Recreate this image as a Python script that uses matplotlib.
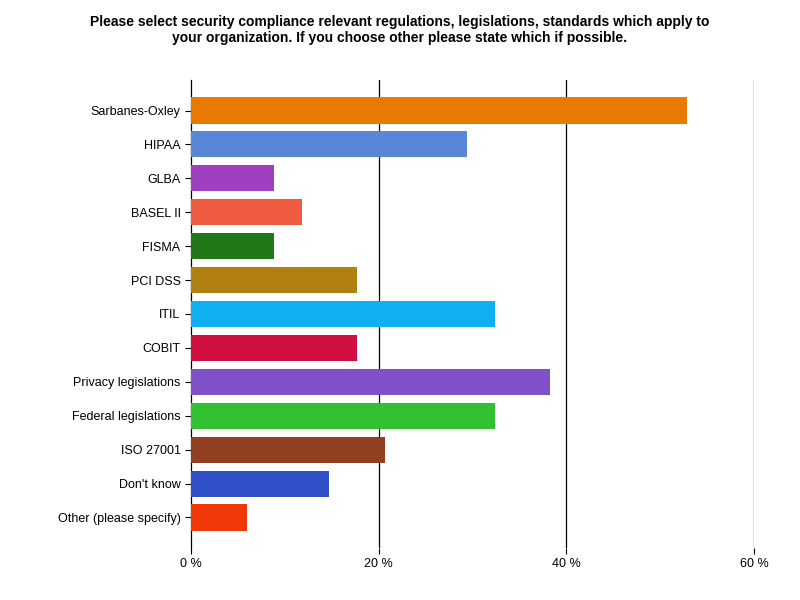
import matplotlib.pyplot as plt

categories = ["Sarbanes-Oxley", "HIPAA", "GLBA", "BASEL II", "FISMA", "PCI DSS", "ITIL",
              "COBIT", "Privacy legislations", "Federal legislations", "ISO 27001",
              "Don't know", "Other (please specify)"]
values = [52.9, 29.4, 8.8, 11.8, 8.8, 17.7, 32.4, 17.7, 38.3, 32.4, 20.7, 14.7, 6.0]
colors = ["#e87a00", "#5a86d8", "#a040c0", "#f05a40", "#207818", "#b08010", "#10b0f0",
          "#d01040", "#8050c8", "#30c030", "#904020", "#3050c8", "#f03808"]

fig = plt.figure(figsize=(8, 6), dpi=100)
ax = fig.add_axes([191 / 800, 52 / 600, 563 / 800, 468 / 600])
y = list(range(len(categories)))
ax.barh(y, values, height=0.77, color=colors, edgecolor="none", zorder=3)
ax.set_ylim(len(categories) - 0.5 + 0.4, -0.5 - 0.4)
ax.set_xlim(0, 60)
ax.set_yticks(y)
ax.set_yticklabels(categories, fontsize=9, family="Liberation Sans")
ax.set_xticks([0, 20, 40, 60])
ax.set_xticklabels(["0 %", "20 %", "40 %", "60 %"], fontsize=9, family="Liberation Sans")
for x in [20, 40, 60]:
    ax.axvline(x, color="black", linewidth=0.9, zorder=1)
for s in ["top", "right", "bottom"]:
    ax.spines[s].set_visible(False)
ax.spines["left"].set_linewidth(0.9)
ax.tick_params(axis="both", length=4, width=0.8)
fig.suptitle("Please select security compliance relevant regulations, legislations, standards which apply to\n"
             "your organization. If you choose other please state which if possible.",
             y=0.975, fontsize=10, fontweight="bold", family="Liberation Sans")
fig.savefig("out.png", dpi=100)
